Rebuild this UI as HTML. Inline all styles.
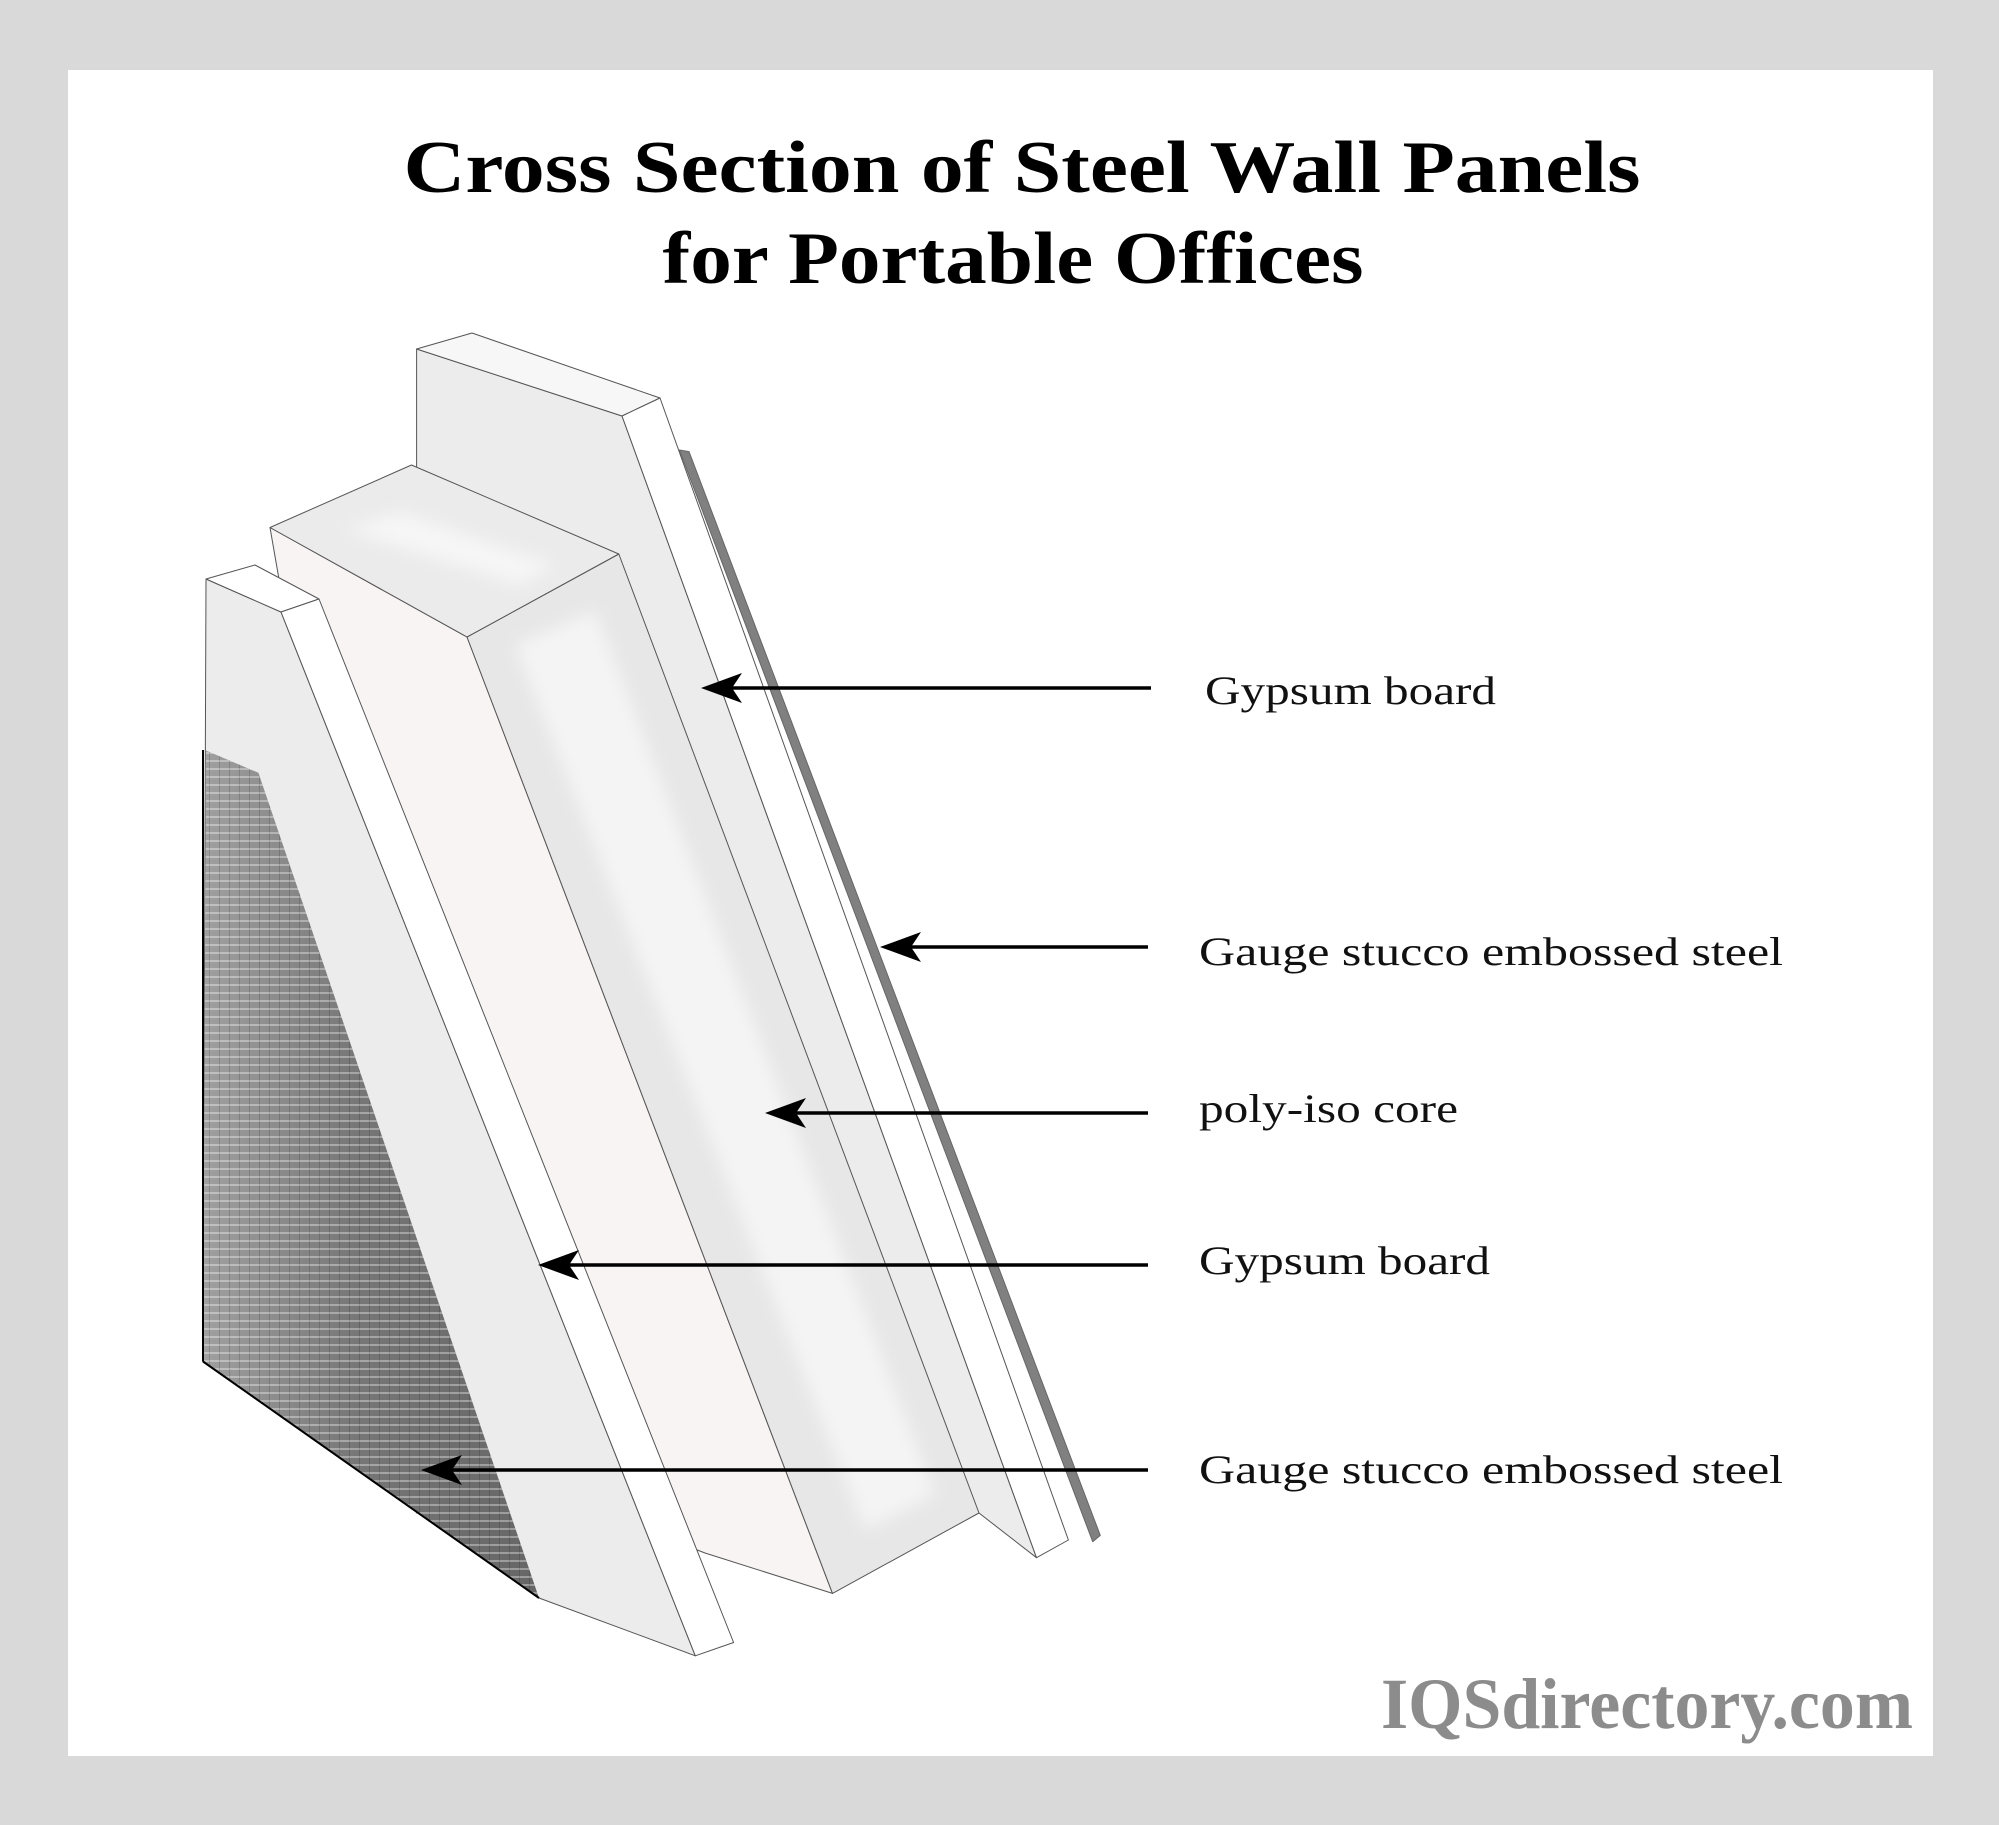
<!DOCTYPE html>
<html><head><meta charset="utf-8"><style>html,body{margin:0;padding:0;background:#d9d9d9}svg{display:block}</style></head>
<body>
<svg width="1999" height="1825" viewBox="0 0 1999 1825" xmlns="http://www.w3.org/2000/svg">
<defs>
<linearGradient id="mg" x1="0" y1="0" x2="1" y2="0">
<stop offset="0" stop-color="#a0a0a0"/><stop offset="0.45" stop-color="#777"/><stop offset="1" stop-color="#666"/>
</linearGradient>
<pattern id="mp" width="10" height="8" patternUnits="userSpaceOnUse">
<rect y="0" width="10" height="2" fill="#ffffff" opacity="0.35"/>
<rect x="9" width="1" height="8" fill="#000" opacity="0.15"/>
</pattern>
<filter id="bl" x="-20%" y="-20%" width="140%" height="140%"><feGaussianBlur stdDeviation="8"/></filter>
</defs>
<rect width="1999" height="1825" fill="#d9d9d9"/>
<rect x="68" y="70" width="1865" height="1686" fill="#ffffff"/>

<text x="1022" y="192" font-family="Liberation Serif, serif" font-weight="bold" font-size="74" text-anchor="middle" textLength="1237" lengthAdjust="spacingAndGlyphs">Cross Section of Steel Wall Panels</text>
<text x="1013" y="283" font-family="Liberation Serif, serif" font-weight="bold" font-size="74" text-anchor="middle" textLength="701" lengthAdjust="spacingAndGlyphs">for Portable Offices</text>

<g stroke="#555" stroke-width="1" stroke-linejoin="round">
<!-- back board -->
<polygon points="416.6,349 622,416 1036.5,1557.7 979,1513 416.6,1513" fill="#ececec"/>
<polygon points="416.6,349 472,333 660,398 622,416" fill="#f7f7f7"/>
<polygon points="622,416 660,398 1068.4,1540 1036.5,1557.7" fill="#ffffff"/>
<polygon points="679.4,450 689,451.6 1100.3,1535.4 1092.7,1541.7" fill="#808080" stroke="#666"/>
<!-- core -->
<polygon points="270,527.5 467,637 832.5,1593.4 705,1553 620,1520 300,700" fill="#f8f4f4"/>
<polygon points="467,637 618.8,554 979,1513 832.5,1593.4" fill="#e7e7e7"/>
<polygon points="515,645 595,610 935,1495 865,1530" fill="#f4f4f4" stroke="none" filter="url(#bl)"/>
<polygon points="270,527.5 411.5,465 618.8,554 467,637" fill="#ebebeb"/>
<polygon points="345,530 400,512 555,565 520,585" fill="#f6f6f6" stroke="none" filter="url(#bl)"/>
<!-- front board -->
<polygon points="206,579 281,612 695.3,1655.8 539,1598 203,1361.5" fill="#ececec"/>
<polygon points="206,579 255,565 319,599 281,612" fill="#ffffff"/>
<polygon points="281,612 319,599 733.6,1642.5 695.3,1655.8" fill="#ffffff"/>
<polygon points="206,750.5 258.4,772.8 539,1598 203,1361.5" fill="url(#mg)" stroke="none"/>
<polygon points="206,750.5 258.4,772.8 539,1598 203,1361.5" fill="url(#mp)" stroke="none"/>
<line x1="203" y1="1361.5" x2="539" y2="1598" stroke="#000" stroke-width="2"/>
<line x1="203" y1="750" x2="203" y2="1361.5" stroke="#000" stroke-width="2"/>
</g>

<g stroke="#000" stroke-width="3.5">
<line x1="1151" y1="688" x2="715" y2="688"/>
<line x1="1148" y1="947" x2="894" y2="947"/>
<line x1="1148" y1="1113" x2="779" y2="1113"/>
<line x1="1148" y1="1265" x2="552" y2="1265"/>
<line x1="1148" y1="1470" x2="435" y2="1470"/>
</g>
<g fill="#000">
<polygon points="701,688 742,673 732,688 742,703"/>
<polygon points="880,947 921,932 911,947 921,962"/>
<polygon points="765,1113 806,1098 796,1113 806,1128"/>
<polygon points="538,1265 579,1250 569,1265 579,1280"/>
<polygon points="421,1470 462,1455 452,1470 462,1485"/>
</g>

<g font-family="Liberation Serif, serif" font-size="40" fill="#111">
<text x="1205" y="704" textLength="291" lengthAdjust="spacingAndGlyphs">Gypsum board</text>
<text x="1199" y="965" textLength="584" lengthAdjust="spacingAndGlyphs">Gauge stucco embossed steel</text>
<text x="1199" y="1122" textLength="259" lengthAdjust="spacingAndGlyphs">poly-iso core</text>
<text x="1199" y="1274" textLength="291" lengthAdjust="spacingAndGlyphs">Gypsum board</text>
<text x="1199" y="1483" textLength="584" lengthAdjust="spacingAndGlyphs">Gauge stucco embossed steel</text>
</g>
<text x="1381" y="1728" font-family="Liberation Serif, serif" font-weight="bold" font-size="72" fill="#8c8c8c" textLength="532" lengthAdjust="spacingAndGlyphs">IQSdirectory.com</text>
</svg>
</body></html>
